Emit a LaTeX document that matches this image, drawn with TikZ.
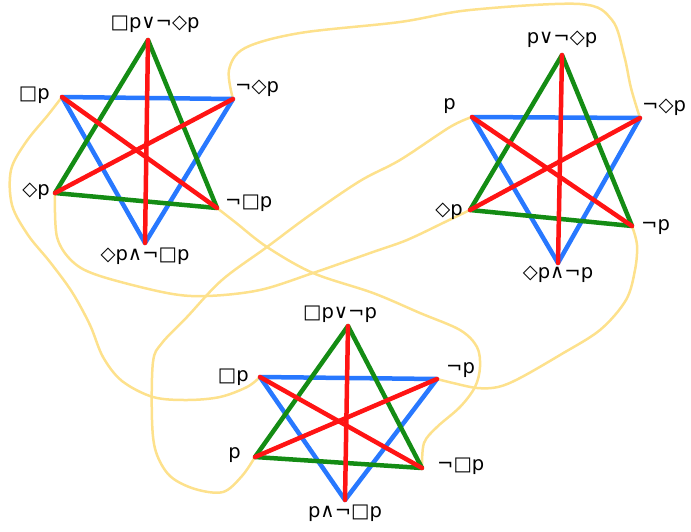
\documentclass[tikz,border=0pt]{standalone}
\usepackage{fontspec}
\setmainfont{DejaVu Sans}
\usepackage{xcolor}
\usetikzlibrary{positioning}

\definecolor{hexblue}{RGB}{40,120,255}
\definecolor{hexgreen}{RGB}{20,140,20}
\definecolor{hexred}{RGB}{255,20,20}
\definecolor{linkyellow}{RGB}{253,225,140}

\begin{document}
\begin{tikzpicture}[
  x=1pt, y=-1pt,
  lbl/.style={inner sep=0pt, font=\fontsize{19.5}{22}\selectfont},
  side/.style={line width=4.5pt, line cap=round, line join=round},
  link/.style={line width=2.5pt, draw=linkyellow, line cap=round, tension=0.55}
]
\useasboundingbox (0,0) rectangle (691,531);

% hexagon 1
\coordinate (top1) at (148,40);
\coordinate (ul1) at (62,97);
\coordinate (ur1) at (233,99);
\coordinate (ll1) at (55,193);
\coordinate (lr1) at (217,208);
\coordinate (bot1) at (145,243);
% hexagon 2
\coordinate (top2) at (562,55);
\coordinate (ul2) at (472,117);
\coordinate (ur2) at (640,118);
\coordinate (ll2) at (470,210);
\coordinate (lr2) at (632,226);
\coordinate (bot2) at (558,263);
% hexagon 3
\coordinate (top3) at (348,326);
\coordinate (ul3) at (260,377);
\coordinate (ur3) at (437,379);
\coordinate (ll3) at (255,457);
\coordinate (lr3) at (422,468);
\coordinate (bot3) at (345,500);

% shared formulas
\draw[link] plot[smooth] coordinates {(ur1) (229,70) (245,48) (300,33) (400,22) (470,10) (580,4) (612,20) (624,55) (631,88) (ur2)};
\draw[link] plot[smooth] coordinates {(ul1) (48,115) (26,142) (11,170) (12,205) (28,235) (50,262) (72,292) (90,325) (103,357) (122,381) (153,397) (187,400) (220,397) (247,387) (ul3)};
\draw[link] plot[smooth] coordinates {(ll1) (57,237) (73,262) (100,276) (167,293) (207,296) (260,290) (313,273) (373,252) (407,240) (445,222) (ll2)};
\draw[link] plot[smooth] coordinates {(lr1) (235,222) (267,247) (313,273) (373,293) (420,313) (460,330) (477,347) (480,367) (475,387) (460,407) (437,427) (424,443) (lr3)};
\draw[link] plot[smooth] coordinates {(lr2) (637,245) (635,270) (626,300) (600,330) (560,355) (520,378) (498,387) (477,388) (453,383) (ur3)};
\draw[link] plot[smooth] coordinates {(ul2) (450,127) (400,160) (360,181) (310,215) (267,247) (222,280) (187,317) (162,343) (153,362) (152,420) (156,452) (170,476) (195,489) (223,492) (242,476) (ll3)};

\foreach \i in {1,2,3} {
  \draw[side, hexblue] (ul\i) -- (ur\i) -- (bot\i) -- cycle;
  \draw[side, hexgreen] (top\i) -- (lr\i) -- (ll\i) -- cycle;
  \draw[side, hexred] (top\i) -- (bot\i);
  \draw[side, hexred] (ul\i) -- (lr\i);
  \draw[side, hexred] (ur\i) -- (ll\i);
}

% labels, hexagon 1
\node[lbl, above=7pt of top1, xshift=7pt] (t1) {□p∨¬◇p};
\node[lbl, left=12pt of ul1, yshift=2pt] (a1) {□p};
\node[lbl, right=2pt of ur1, yshift=11pt] (e1) {¬◇p};
\node[lbl, left=5pt of ll1, yshift=2pt] (i1) {◇p};
\node[lbl, right=8pt of lr1, yshift=5pt] (o1) {¬□p};
\node[lbl, below=5pt of bot1] (b1) {◇p∧¬□p};
% labels, hexagon 2
\node[lbl, above=7pt of top2] (t2) {p∨¬◇p};
\node[lbl, left=16pt of ul2, yshift=11pt] (a2) {p};
\node[lbl, right=2pt of ur2, yshift=11pt] (e2) {¬◇p};
\node[lbl, left=7pt of ll2, yshift=-1pt] (i2) {◇p};
\node[lbl, right=9pt of lr2, yshift=-1pt] (o2) {¬p};
\node[lbl, below=3pt of bot2] (b2) {◇p∧¬p};
% labels, hexagon 3
\node[lbl, above=3pt of top3, xshift=-8pt] (t3) {□p∨¬p};
\node[lbl, left=11pt of ul3] (a3) {□p};
\node[lbl, right=9pt of ur3, yshift=9pt] (e3) {¬p};
\node[lbl, left=14pt of ll3, yshift=2pt] (i3) {p};
\node[lbl, right=15pt of lr3, yshift=2pt] (o3) {¬□p};
\node[lbl, below=5pt of bot3] (b3) {p∧¬□p};
\end{tikzpicture}
\end{document}
